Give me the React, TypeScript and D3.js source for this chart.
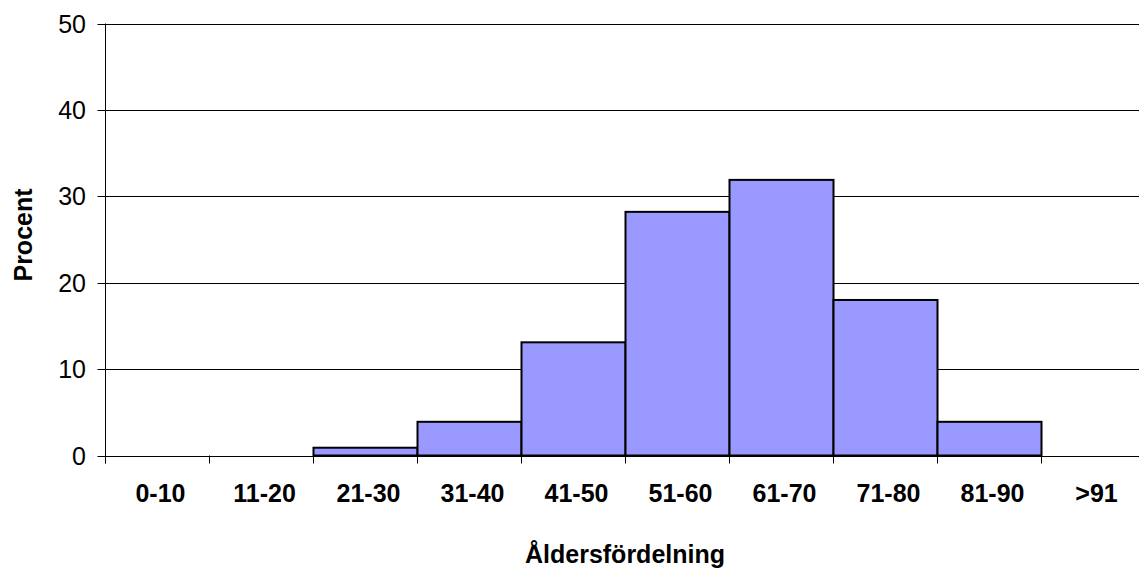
import React from "react";
import * as d3 from "d3";

// Age groups and share of respondents (%)
const ageGroups = ["0-10", "11-20", "21-30", "31-40", "41-50", "51-60", "61-70", "71-80", "81-90", ">91"];
const percentages = [0, 0, 0.9, 3.9, 13.1, 28.2, 31.9, 18.0, 3.9, 0];
const yTicks = [0, 10, 20, 30, 40, 50];

const W = 1139;
const H = 573;
const left = 105.5;
const right = 1145.5;
const top = 23.5;
const bottom = 455.5;
const font = "'Liberation Sans', Arial, sans-serif";

export default function App() {
  const x = d3.scaleBand<string>().domain(ageGroups).range([left, right]).padding(0);
  const y = d3.scaleLinear().domain([0, 50]).range([bottom, top]);
  const edges = ageGroups.map((g) => x(g) as number).concat([right]);

  return (
    <div style={{ position: "absolute", left: 0, top: 0 }}>
      <svg width={W} height={H} style={{ display: "block", background: "#fff" }}>
        {/* horizontal gridlines with y ticks */}
        {yTicks.map((t) => (
          <g key={t}>
            <line x1={left - 8} x2={right} y1={Math.round(y(t)) + 0.5} y2={Math.round(y(t)) + 0.5} stroke="#000" strokeWidth={1} />
            <text x={86} y={y(t)} textAnchor="end" dominantBaseline="central" fontFamily={font} fontSize={25} fill="#000">
              {t}
            </text>
          </g>
        ))}
        {/* bars */}
        {ageGroups.map((g, i) =>
          percentages[i] > 0 ? (
            <rect
              key={g}
              x={x(g)}
              y={y(percentages[i])}
              width={x.bandwidth()}
              height={bottom - y(percentages[i])}
              fill="#9999FF"
              stroke="#000"
              strokeWidth={2}
            />
          ) : null
        )}
        {/* value axis */}
        <line x1={left} x2={left} y1={top} y2={bottom + 8} stroke="#000" strokeWidth={1} />
        {/* category tick marks */}
        {edges.map((e, i) => (
          <line key={i} x1={e} x2={e} y1={bottom} y2={bottom + 8} stroke="#000" strokeWidth={1} />
        ))}
        {/* category labels */}
        {ageGroups.map((g) => (
          <text
            key={g}
            x={(x(g) as number) + x.bandwidth() / 2 + 3}
            y={502}
            textAnchor="middle"
            fontFamily={font}
            fontSize={25}
            fontWeight="bold"
            fill="#000"
          >
            {g}
          </text>
        ))}
        {/* axis titles */}
        <text
          x={625}
          y={563}
          textAnchor="middle"
          fontFamily={font}
          fontSize={25}
          fontWeight="bold"
          fill="#000"
        >
          Åldersfördelning
        </text>
        <text
          transform="translate(32,235) rotate(-90)"
          textAnchor="middle"
          fontFamily={font}
          fontSize={25}
          fontWeight="bold"
          fill="#000"
        >
          Procent
        </text>
      </svg>
    </div>
  );
}
